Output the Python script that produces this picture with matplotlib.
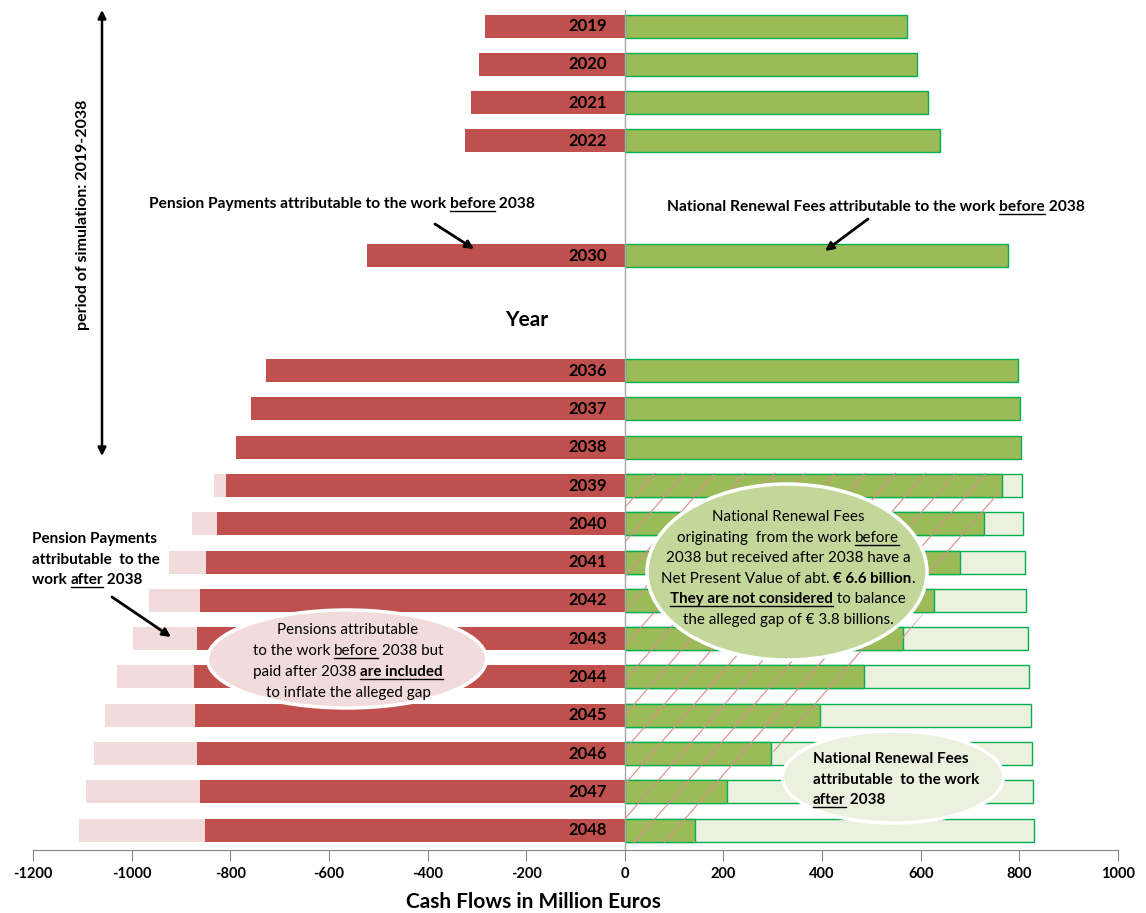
import numpy as np
import matplotlib
matplotlib.use("Agg")
import matplotlib.pyplot as plt
from matplotlib.patches import Ellipse, Polygon
from matplotlib.collections import LineCollection
from matplotlib.lines import Line2D
from matplotlib.transforms import IdentityTransform

plt.rcParams['font.family'] = ['Lato', 'DejaVu Sans']
plt.rcParams['axes.unicode_minus'] = False

###########################################################
### ---------------------- DATA ---------------------------
###########################################################

nan = np.nan

# blank strings are the empty category rows of the chart
years = ['2019', '2020', '2021', '2022', '', '', '2030', '', '',
         '2036', '2037', '2038', '2039', '2040', '2041', '2042',
         '2043', '2044', '2045', '2046', '2047', '2048']

# pension payments attributable to the work before 2038 (million EUR)
pension_before = [-284, -296, -312, -324, nan, nan, -523, nan, nan,
                  -728, -758, -789, -809, -827, -849, -862,
                  -868, -874, -872, -868, -862, -851]

# all pension payments incl. the ones attributable to work after 2038
pension_total = [nan] * 12 + [-833, -878, -924, -965, -997,
                              -1030, -1054, -1076, -1093, -1107]

# national renewal fees attributable to the work before 2038
fees_before = [572, 592, 614, 639, nan, nan, 776, nan, nan,
               797, 801, 803, 765, 728, 680, 627,
               564, 484, 396, 297, 207, 143]

# all national renewal fees
fees_total = [nan] * 12 + [805, 807, 811, 813, 817,
                           819, 823, 825, 827, 830]

xticks = np.arange(-1200, 1001, 200)

###########################################################
### ---------------------- PLOT ---------------------------
###########################################################

W, H = 1146, 913
RED, PINK = '#c0504d', '#f2dcdb'
GREEN, LGREEN, GEDGE = '#9bbb59', '#ebf1de', '#00b050'
PIX = IdentityTransform()

fig = plt.figure(figsize=(W / 100, H / 100), dpi=100)
ax = fig.add_axes([33 / W, 63 / H, 1085 / W, 840 / H])
pos = np.arange(len(years))

ax.barh(pos, pension_total, height=0.6, color=PINK, zorder=2)
ax.barh(pos, pension_before, height=0.6, color=RED, zorder=3)
ax.barh(pos, fees_total, height=0.6, color=LGREEN, edgecolor=GEDGE, linewidth=1, zorder=2)
ax.barh(pos, fees_before, height=0.6, color=GREEN, edgecolor=GEDGE, linewidth=1, zorder=3)

for i, y in enumerate(years):
    if y:
        ax.text(-36, pos[i], y, ha='right', va='center', fontsize=12,
                fontweight='bold', zorder=5)

ax.axvline(0, color='#a6a6a6', lw=1, zorder=4)

ax.set_xlim(-1200, 1000)
ax.set_ylim(21.52, -0.42)
ax.set_yticks([])
for s in ['top', 'right', 'left']:
    ax.spines[s].set_visible(False)
ax.spines['bottom'].set_color('#868686')
ax.set_xticks(xticks)
ax.set_xticklabels([str(t) for t in xticks], fontweight='bold', fontsize=10.5)
ax.tick_params(axis='x', direction='out', length=8, color='#868686', pad=4)
ax.set_xlabel('Cash Flows in Million Euros', fontsize=15, fontweight='bold')
ax.xaxis.set_label_coords((533 - 33) / 1085, -(902 - 850) / 840)
ax.xaxis.label.set_va('center')

# hatched area: fees from work before 2038 received after 2038
hi = [i for i in range(len(years)) if not np.isnan(fees_total[i])]
top, bot = pos[hi[0]] - 0.33, pos[hi[-1]] + 0.34
pts = [(0, top), (fees_before[hi[0]], top)] + \
      [(fees_before[i], pos[i]) for i in hi] + \
      [(fees_before[hi[-1]], bot), (0, bot)]
clip = Polygon(pts, closed=True, facecolor='none', edgecolor='none')
ax.add_patch(clip)
px_per_unit = 1085 / 2200
px_per_slot = 840 / 21.94
run = (bot - top) * px_per_slot / 1.15 / px_per_unit
segs = [[(c, bot), (c + run, top)] for c in np.arange(-run, 900, 61)]
lc = LineCollection(segs, colors='#d98c89', linewidths=0.8, zorder=4)
ax.add_collection(lc)
lc.set_clip_path(clip)

###########################################################
### ------------------- ANNOTATIONS -----------------------
###########################################################

renderer = fig.canvas.get_renderer()


def text_width(s, size, weight):
    a = fig.text(0, 0, '|' + s + '|', fontsize=size, fontweight=weight)
    b = fig.text(0, 0, '||', fontsize=size, fontweight=weight)
    w = a.get_window_extent(renderer).width - b.get_window_extent(renderer).width
    a.remove()
    b.remove()
    return w


def rich(x, y, parts, size, ha='center'):
    # parts: (text, weight, underline); y is baseline from the top
    widths = [text_width(s, size, w) for s, w, u in parts]
    x0 = x - sum(widths) / 2 if ha == 'center' else x
    yb = H - y
    for (s, w, u), wd in zip(parts, widths):
        fig.text(x0, yb, s, fontsize=size, fontweight=w, va='baseline',
                 ha='left', transform=PIX, zorder=6)
        if u:
            fig.add_artist(Line2D([x0, x0 + wd], [yb - 2.5, yb - 2.5], color='black',
                                  lw=1, transform=PIX, zorder=6))
        x0 += wd


def arrow(x1, y1, x2, y2, style='-|>', lw=2):
    ax.annotate('', xy=(x2, H - y2), xytext=(x1, H - y1),
                xycoords='figure pixels', textcoords='figure pixels',
                arrowprops=dict(arrowstyle=style, lw=lw, color='black',
                                mutation_scale=12, shrinkA=0, shrinkB=0),
                zorder=7)


# ellipses
fig.add_artist(Ellipse((347, H - 659), 279, 98, transform=PIX, facecolor=PINK,
                       edgecolor='white', lw=2.5, zorder=5))
fig.add_artist(Ellipse((787, H - 572), 280, 176, transform=PIX, facecolor='#c4d79b',
                       edgecolor='white', lw=2.5, zorder=5))
fig.add_artist(Ellipse((893, H - 777), 221, 92, transform=PIX, facecolor=LGREEN,
                       edgecolor='white', lw=2.5, zorder=5))

N, B = 'normal', 'bold'

rich(342, 208, [('Pension Payments attributable to the work ', B, 0), ('before', B, 1), (' 2038', B, 0)], 11.2)
rich(876, 211, [('National Renewal Fees attributable to the work ', B, 0), ('before', B, 1), (' 2038', B, 0)], 11.2)
arrow(435, 224, 474, 249)
arrow(868, 219, 825, 251)

rich(32, 543, [('Pension Payments', B, 0)], 11, ha='left')
rich(32, 564, [('attributable  to the', B, 0)], 11, ha='left')
rich(32, 584, [('work ', B, 0), ('after', B, 1), (' 2038', B, 0)], 11, ha='left')
arrow(112, 597, 171, 637)

rich(348, 634, [('Pensions attributable', N, 0)], 10.9)
rich(348, 655, [('to the work ', N, 0), ('before', N, 1), (' 2038 but', N, 0)], 10.9)
rich(348, 676, [('paid after 2038 ', N, 0), ('are included', B, 1)], 10.9)
rich(348, 697, [('to inflate the alleged gap', N, 0)], 10.9)

rich(788, 521, [('National Renewal Fees', N, 0)], 10.9)
rich(788, 542, [('originating  from the work ', N, 0), ('before', N, 1)], 10.9)
rich(788, 562, [('2038 but received after 2038 have a', N, 0)], 10.9)
rich(788, 583, [('Net Present Value of abt. ', N, 0), ('€ 6.6 billion', B, 0), ('.', N, 0)], 10.9)
rich(788, 603, [('They are not considered', B, 1), (' to balance', N, 0)], 10.9)
rich(788, 624, [('the alleged gap of € 3.8 billions.', N, 0)], 10.9)

rich(813, 763, [('National Renewal Fees', B, 0)], 11, ha='left')
rich(813, 784, [('attributable  to the work', B, 0)], 11, ha='left')
rich(813, 804, [('after', B, 1), (' 2038', B, 0)], 11, ha='left')

fig.text(527, H - 326, 'Year', fontsize=15, fontweight='bold', ha='center',
         va='baseline', transform=PIX)

arrow(102, 10, 102, 456, style='<|-|>', lw=1.8)
fig.text(83, H - 215, 'period of simulation: 2019-2038', rotation=90, ha='center',
         va='center', fontsize=11.5, fontweight='bold', transform=PIX)

fig.savefig('out.png', dpi=100)
